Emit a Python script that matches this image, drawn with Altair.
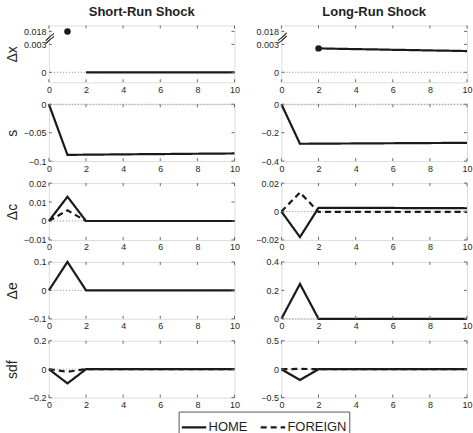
import altair as alt
import pandas as pd

# ---------------- data ----------------
X_TICKS = [0, 2, 4, 6, 8, 10]
T = [0, 1, 2, 3, 4, 5, 6, 7, 8, 9, 10]

# Row 1: delta x (broken y axis)
DX_SR_DOT_T = [1]
DX_SR_DOT_V = [0.018]
DX_SR_LINE_T = [2, 3, 4, 5, 6, 7, 8, 9, 10]
DX_SR_LINE_V = [0, 0, 0, 0, 0, 0, 0, 0, 0]
DX_LR_DOT_T = [2]
DX_LR_DOT_V = [0.00257]
DX_LR_LINE_T = [2, 3, 4, 5, 6, 7, 8, 9, 10]
DX_LR_LINE_V = [0.00257, 0.00253, 0.00249, 0.00246, 0.00242, 0.00239, 0.00235, 0.00232, 0.00228]
DX_TICKS = [0, 0.003, 0.018]

# Row 2: s
S_SR_HOME = [0, -0.089, -0.0887, -0.0884, -0.0881, -0.0878, -0.0876, -0.0873, -0.0870, -0.0868, -0.0865]
S_LR_HOME = [0, -0.278, -0.2772, -0.2764, -0.2757, -0.2749, -0.2742, -0.2735, -0.2728, -0.2721, -0.2714]
S_SR_TICKS = [-0.1, -0.05, 0]
S_LR_TICKS = [-0.4, -0.2, 0]

# Row 3: delta c
DC_SR_HOME = [0, 0.0128, 0, 0, 0, 0, 0, 0, 0, 0, 0]
DC_SR_FOREIGN = [0, 0.0056, 0, 0, 0, 0, 0, 0, 0, 0, 0]
DC_LR_HOME = [0, -0.018, 0.0026, 0.0026, 0.0025, 0.0025, 0.0025, 0.0024, 0.0024, 0.0024, 0.0023]
DC_LR_FOREIGN = [0, 0.0134, -0.0003, -0.0003, -0.0003, -0.0003, -0.0003, -0.0003, -0.0003, -0.0003, -0.0003]
DC_SR_TICKS = [-0.01, 0, 0.01, 0.02]
DC_LR_TICKS = [-0.02, 0, 0.02]

# Row 4: delta e
DE_SR_HOME = [0, 0.1, 0, 0, 0, 0, 0, 0, 0, 0, 0]
DE_LR_HOME = [0, 0.245, 0, 0, 0, 0, 0, 0, 0, 0, 0]
DE_SR_TICKS = [-0.1, 0, 0.1]
DE_LR_TICKS = [0, 0.2, 0.4]

# Row 5: sdf
SDF_SR_HOME = [0, -0.1, 0, 0, 0, 0, 0, 0, 0, 0, 0]
SDF_SR_FOREIGN = [0, -0.018, 0, 0, 0, 0, 0, 0, 0, 0, 0]
SDF_LR_HOME = [0, -0.19, 0, 0, 0, 0, 0, 0, 0, 0, 0]
SDF_LR_FOREIGN = [0, 0.005, 0, 0, 0, 0, 0, 0, 0, 0, 0]
SDF_SR_TICKS = [-0.2, 0, 0.2]
SDF_LR_TICKS = [-0.5, 0, 0.5]

SERIES = ["HOME", "FOREIGN"]

# ---------------- style ----------------
W, H = 186, 57
FONT = "Liberation Sans"
INK = "#1f1f1f"
FRAME = "#6a6a6a"
LINE = "#1a1a1a"

BREAK_EXPR = "datum.v <= 0.003 ? datum.v / 0.003 : 1 + (datum.v - 0.003) / 0.015 * 0.464"


def brk(v):
    return v / 0.003 if v <= 0.003 else 1 + (v - 0.003) / 0.015 * 0.464


LEGEND = alt.Legend(
    title=None, orient="none", legendX=130, legendY=387, direction="horizontal",
    strokeColor="#555555", padding=2, symbolType="stroke", symbolSize=600,
    symbolStrokeWidth=2.2, symbolStrokeColor=LINE, labelFont=FONT, labelFontSize=13,
    labelColor=INK, columnPadding=8, labelOffset=1,
)
DASH = alt.StrokeDash("series:N", scale=alt.Scale(domain=SERIES, range=[[1, 0], [6, 4]]), legend=LEGEND)

XENC = alt.X("t:Q", scale=alt.Scale(domain=[0, 10], nice=False, zero=False),
             axis=alt.Axis(values=X_TICKS, title=None, labelFont=FONT, labelFontSize=9, labelColor=INK,
                           ticks=False, domain=False, grid=False, labelPadding=3, labelFlush=False,
                           labelOverlap=False))


def make_panel(lines, domain, yticks, ylabel, title=None, broken=False, dots=None):
    yfield = "vt" if broken else "v"
    axis_kw = dict(
        titleFont=FONT, titleFontSize=14, titleFontWeight="normal", titleColor=INK, titlePadding=3,
        minExtent=26, maxExtent=26, labelFont=FONT, labelFontSize=9, labelColor=INK, labelPadding=3,
        ticks=False, domain=False, grid=False, labelOverlap=False,
    )
    axis_kw["title"] = ylabel
    if broken:
        axis_kw["values"] = [brk(v) for v in yticks]
        axis_kw["labelExpr"] = "datum.value < 0.5 ? '0' : (datum.value < 1.2 ? '0.003' : '0.018')"
    else:
        axis_kw["values"] = yticks
        axis_kw["format"] = "~g"
    yenc = alt.Y(f"{yfield}:Q", scale=alt.Scale(domain=domain, nice=False, zero=False),
                 axis=alt.Axis(**axis_kw))

    def tf(ch):
        return ch.transform_calculate(vt=BREAK_EXPR) if broken else ch

    layers = []
    zero = tf(alt.Chart(pd.DataFrame({"v": [0.0]}))).mark_rule(
        color="#8c8c8c", strokeDash=[1, 2], strokeWidth=1).encode(y=yenc)
    layers.append(zero)

    rows = []
    for name, ts, vs in lines:
        for t, v in zip(ts, vs):
            rows.append({"t": t, "v": v, "series": name})
    df = pd.DataFrame(rows)
    ln = tf(alt.Chart(df)).mark_line(color=LINE, strokeWidth=2.2, strokeCap="butt").encode(
        x=XENC, y=yenc, strokeDash=DASH)
    layers.append(ln)

    if dots is not None:
        ddf = pd.DataFrame({"t": dots[0], "v": dots[1]})
        layers.append(tf(alt.Chart(ddf)).mark_circle(size=42, color=LINE, opacity=1).encode(x=XENC, y=yenc))

    xt = pd.DataFrame({"t": X_TICKS})
    layers.append(alt.Chart(xt).mark_rule(color=FRAME, strokeWidth=1).encode(
        x=XENC, y=alt.value(H), y2=alt.value(H - 3)))
    layers.append(alt.Chart(xt).mark_rule(color=FRAME, strokeWidth=1).encode(
        x=XENC, y=alt.value(0), y2=alt.value(3)))
    yt = pd.DataFrame({"v": yticks})
    layers.append(tf(alt.Chart(yt)).mark_rule(color=FRAME, strokeWidth=1).encode(
        y=yenc, x=alt.value(0), x2=alt.value(3)))
    layers.append(tf(alt.Chart(yt)).mark_rule(color=FRAME, strokeWidth=1).encode(
        y=yenc, x=alt.value(W - 3), x2=alt.value(W)))

    if broken:
        for off in (0, 3):
            layers.append(alt.Chart(xt).mark_rule(color="#444444", strokeWidth=1).encode(
                x=alt.value(-3), x2=alt.value(5), y=alt.value(18 - off), y2=alt.value(11 - off)))

    props = dict(width=W, height=H)
    if title is not None:
        props["title"] = alt.TitleParams(title, font=FONT, fontSize=13, fontWeight="bold", color=INK,
                                         offset=6, anchor="middle")
    return alt.layer(*layers).properties(**props)


BROKEN_DOMAIN = [-0.357, 1.679]

panels = [
    make_panel([("HOME", DX_SR_LINE_T, DX_SR_LINE_V)], BROKEN_DOMAIN, DX_TICKS, "Δx",
               title="Short-Run Shock", broken=True, dots=(DX_SR_DOT_T, DX_SR_DOT_V)),
    make_panel([("HOME", DX_LR_LINE_T, DX_LR_LINE_V)], BROKEN_DOMAIN, DX_TICKS, None,
               title="Long-Run Shock", broken=True, dots=(DX_LR_DOT_T, DX_LR_DOT_V)),
    make_panel([("HOME", T, S_SR_HOME)], [-0.1, 0], S_SR_TICKS, "s"),
    make_panel([("HOME", T, S_LR_HOME)], [-0.4, 0], S_LR_TICKS, None),
    make_panel([("HOME", T, DC_SR_HOME), ("FOREIGN", T, DC_SR_FOREIGN)], [-0.01, 0.02], DC_SR_TICKS, "Δc"),
    make_panel([("HOME", T, DC_LR_HOME), ("FOREIGN", T, DC_LR_FOREIGN)], [-0.02, 0.02], DC_LR_TICKS, None),
    make_panel([("HOME", T, DE_SR_HOME)], [-0.1, 0.1], DE_SR_TICKS, "Δe"),
    make_panel([("HOME", T, DE_LR_HOME)], [0, 0.4], DE_LR_TICKS, None),
    make_panel([("HOME", T, SDF_SR_HOME), ("FOREIGN", T, SDF_SR_FOREIGN)], [-0.2, 0.2], SDF_SR_TICKS, "sdf"),
    make_panel([("HOME", T, SDF_LR_HOME), ("FOREIGN", T, SDF_LR_FOREIGN)], [-0.5, 0.5], SDF_LR_TICKS, None),
]

chart = alt.concat(*panels, columns=2, spacing={"row": 22, "column": 47}, bounds="flush").properties(
    padding={"left": 5, "top": 5, "right": 0, "bottom": 0}
).configure_view(stroke=FRAME, strokeWidth=1).configure(background="white")

chart.save("out.html", embed_options={"renderer": "svg", "actions": False})
